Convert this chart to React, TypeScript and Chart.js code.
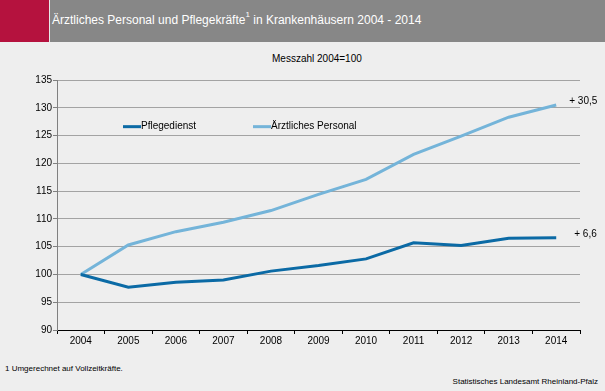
import React, { useEffect, useRef } from "react";
import { Chart, registerables } from "chart.js";

Chart.register(...registerables);

const years = ["2004", "2005", "2006", "2007", "2008", "2009", "2010", "2011", "2012", "2013", "2014"];
const pflegedienst = [100, 97.7, 98.6, 99.0, 100.6, 101.6, 102.8, 105.7, 105.2, 106.5, 106.6];
const aerztlich = [100, 105.3, 107.7, 109.4, 111.5, 114.4, 117.1, 121.6, 124.9, 128.3, 130.5];
const endLabels = ["+ 6,6", "+ 30,5"];
const seriesNames = ["Pflegedienst", "Ärztliches Personal"];
const colors = ["#0b6aa5", "#74b4d9"];

const FONT = "'Liberation Sans', Arial, sans-serif";

const overlayPlugin = {
  id: "overlay",
  afterDatasetsDraw(chart: any) {
    const { ctx, scales } = chart;
    const x = scales.x;
    const y = scales.y;
    ctx.save();
    ctx.font = `10px ${FONT}`;
    ctx.fillStyle = "#000";
    ctx.textBaseline = "middle";
    ctx.textAlign = "left";
    const last = years.length - 1;
    const xs = x.getPixelForValue(last);
    ctx.fillText(endLabels[1], xs + 13, y.getPixelForValue(aerztlich[last]) - 4);
    ctx.fillText(endLabels[0], xs + 18, y.getPixelForValue(pflegedienst[last]) - 4);
    const ly = y.getPixelForValue(126.6);
    const items = [
      { x: x.left + 66, name: seriesNames[0], color: colors[0] },
      { x: x.left + 196, name: seriesNames[1], color: colors[1] },
    ];
    for (const it of items) {
      ctx.strokeStyle = it.color;
      ctx.lineWidth = 3;
      ctx.beginPath();
      ctx.moveTo(it.x, ly);
      ctx.lineTo(it.x + 18, ly);
      ctx.stroke();
      ctx.fillText(it.name, it.x + 18, ly);
    }
    ctx.restore();
  },
};

function ChartView() {
  const ref = useRef<HTMLCanvasElement | null>(null);
  useEffect(() => {
    if (!ref.current) return;
    const chart = new Chart(ref.current, {
      type: "line",
      data: {
        labels: years,
        datasets: [
          {
            label: seriesNames[0],
            data: pflegedienst,
            borderColor: colors[0],
            borderWidth: 3,
            pointRadius: 0,
            tension: 0,
          },
          {
            label: seriesNames[1],
            data: aerztlich,
            borderColor: colors[1],
            borderWidth: 3,
            pointRadius: 0,
            tension: 0,
          },
        ],
      },
      options: {
        animation: false,
        responsive: false,
        maintainAspectRatio: false,
        layout: { padding: { left: 0, right: 25, top: 38, bottom: 0 } },
        plugins: {
          legend: { display: false },
          tooltip: { enabled: false },
          title: { display: false },
        },
        scales: {
          x: {
            offset: true,
            grid: {
              offset: true,
              drawOnChartArea: false,
              drawTicks: true,
              tickLength: 4,
              color: "#000",
            },
            border: { color: "#000", width: 1 },
            ticks: {
              color: "#000",
              font: { family: FONT, size: 10 },
              padding: 1,
              maxRotation: 0,
            },
          },
          y: {
            min: 90,
            max: 135,
            afterFit(scale: any) {
              scale.width = 57;
            },
            grid: {
              color: "#a3a3a3",
              lineWidth: 1,
              drawTicks: true,
              tickLength: 4,
              tickColor: "#808080",
            },
            border: { color: "#808080", width: 1 },
            ticks: {
              stepSize: 5,
              color: "#000",
              font: { family: FONT, size: 10 },
              padding: 1,
            },
          },
        },
      },
      plugins: [overlayPlugin],
    });
    return () => chart.destroy();
  }, []);
  return <canvas ref={ref} width={605} height={306} style={{ position: "absolute", left: 0, top: 42, width: 605, height: 306 }} />;
}

export default function App() {
  return (
    <div
      style={{
        position: "fixed",
        left: 0,
        top: 0,
        width: 605,
        height: 391,
        background: "#eeeeee",
        overflow: "hidden",
        fontFamily: FONT,
      }}
    >
      <div style={{ position: "absolute", left: 0, top: 0, width: 605, height: 42, background: "#878787" }} />
      <div style={{ position: "absolute", left: 0, top: 0, width: 49, height: 42, background: "#b5123e" }} />
      <div style={{ position: "absolute", left: 49, top: 0, width: 1, height: 42, background: "#e8e8e8" }} />
      <div
        style={{
          position: "absolute",
          left: 52,
          top: 13,
          color: "#ffffff",
          fontSize: 12,
          whiteSpace: "nowrap",
        }}
      >
        Ärztliches Personal und Pflegekräfte
        <sup style={{ fontSize: 8, verticalAlign: "top", position: "relative", top: -3 }}>1</sup> in Krankenhäusern 2004 - 2014
      </div>
      <div style={{ position: "absolute", left: 272, top: 53, fontSize: 10, color: "#000", whiteSpace: "nowrap" }}>
        Messzahl 2004=100
      </div>
      <ChartView />
      <div style={{ position: "absolute", left: 5, top: 364, fontSize: 8, color: "#000", whiteSpace: "nowrap" }}>
        1 Umgerechnet auf Vollzeitkräfte.
      </div>
      <div style={{ position: "absolute", right: 7, top: 377, fontSize: 8, color: "#000", whiteSpace: "nowrap" }}>
        Statistisches Landesamt Rheinland-Pfalz
      </div>
    </div>
  );
}
